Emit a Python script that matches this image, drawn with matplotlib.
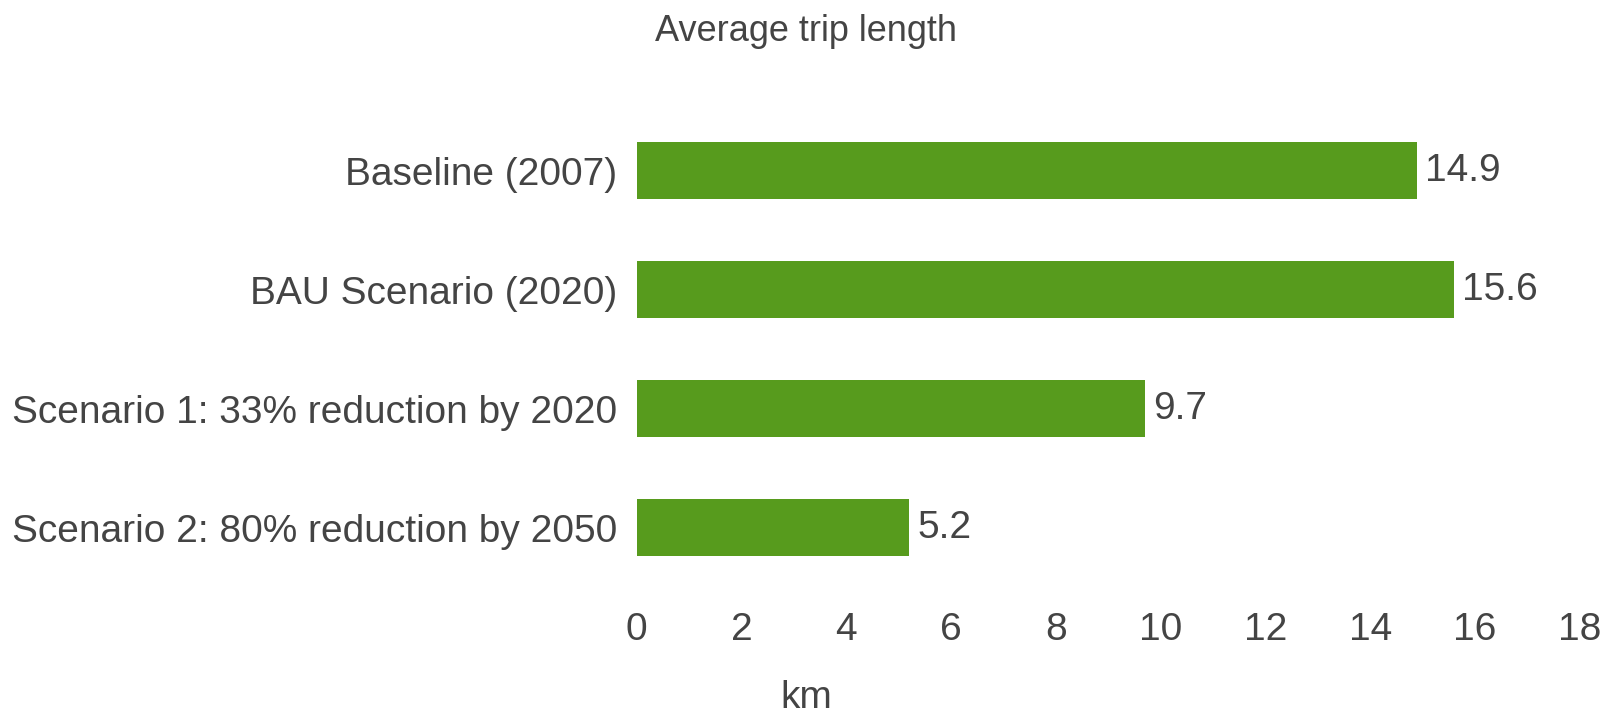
import matplotlib
matplotlib.use('Agg')
import matplotlib.pyplot as plt
from matplotlib import font_manager

# data
scenarios = ['Baseline (2007)', 'BAU Scenario (2020)',
             'Scenario 1: 33% reduction by 2020', 'Scenario 2: 80% reduction by 2050']
trip_km = [14.9, 15.6, 9.7, 5.2]
xticks = [0, 2, 4, 6, 8, 10, 12, 14, 16, 18]

names = sorted(set(f.name for f in font_manager.fontManager.ttflist))
narrow = 'Liberation Sans Narrow' if 'Liberation Sans Narrow' in names else 'Liberation Sans'
plt.rcParams['font.family'] = ['Liberation Sans', 'DejaVu Sans']

txt = '#444444'
green = '#579b1d'

fig = plt.figure(figsize=(16.12, 7.17), dpi=100)
ax = fig.add_axes([0.395, 0.181, 0.585, 0.664])

ypos = list(range(len(scenarios)))
ax.barh(ypos, trip_km, height=0.48, color=green)
for y, v in zip(ypos, trip_km):
    ax.text(v + 0.15, y, f'{v}', va='center', ha='left', fontsize=28, color=txt)

ax.set_ylim(len(scenarios) - 0.5, -0.5)
ax.set_xlim(0, 18)
ax.set_yticks(ypos)
ax.set_yticklabels(scenarios, fontsize=28, color=txt)
ax.set_xticks(xticks)
ax.set_xticklabels([str(t) for t in xticks], fontsize=28, color=txt)
ax.tick_params(length=0, axis='y', pad=14)
ax.tick_params(length=0, axis='x', pad=17.5)
for s in ax.spines.values():
    s.set_visible(False)

fig.text(0.5, 1 - 41 / 717, 'Average trip length', ha='center', va='baseline',
         fontsize=26, color=txt, family=narrow)
# axis unit sits low, centred under the whole figure
fig.text(0.5, 0.001, 'km', ha='center', va='bottom',
         fontsize=28, color=txt)

fig.savefig('out.png', dpi=100, facecolor='white')
